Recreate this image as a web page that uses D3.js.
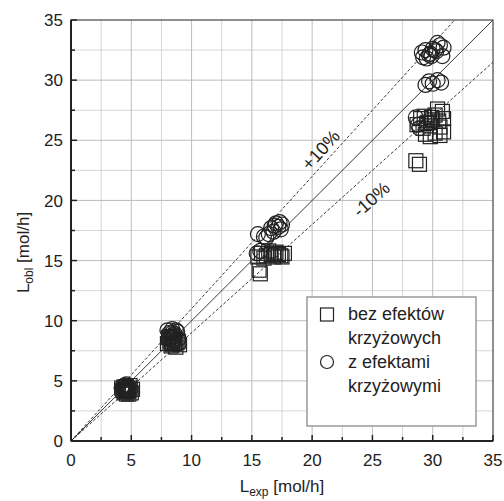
<!DOCTYPE html>
<html>
<head>
<meta charset="utf-8">
<script src="https://cdn.jsdelivr.net/npm/d3@7"></script>
<style>
  body { margin: 0; background: #fff; }
  text { font-family: "Liberation Sans", Arial, sans-serif; fill: #222; }
  .grid-major { stroke: #bdbdbd; stroke-width: 1; }
  .grid-minor { stroke: #d6d6d6; stroke-width: 1; }
  .ref { fill: none; stroke: #222; stroke-width: 0.9; }
  .ref.dash { stroke-dasharray: 3,2; }
  .mk { fill: none; stroke: #222; stroke-width: 1.2; }
</style>
</head>
<body>
<div id="chart"></div>
<script>
// axis ticks
var majorTicks = [0, 5, 10, 15, 20, 25, 30, 35];
var minorTicks = [2.5, 7.5, 12.5, 17.5, 22.5, 27.5, 32.5];

// reference lines: L_obl = k * L_exp
var refSlopes = [1.0, 1.1, 0.9];
var refLabels = ["+10%", "-10%"];

// squares: bez efektów krzyżowych
var sqExp = [4.3, 4.5, 4.7, 4.9, 5.1, 4.4, 4.6, 4.8, 5.0, 4.2, 4.6, 4.9, 4.5, 4.7, 4.4, 4.8,
             8.0, 8.2, 8.4, 8.6, 8.8, 9.0, 8.1, 8.3, 8.5, 8.7, 8.9, 8.2, 8.4, 8.6, 8.3,
             15.5, 15.8, 16.2, 16.6, 17.0, 17.4, 17.7, 16.0, 16.4, 16.8, 17.2, 15.6, 15.7, 16.9, 17.5,
             28.7, 29.0, 29.3, 29.6, 29.9, 30.2, 30.5, 30.8, 29.2, 29.8, 30.4, 30.9, 30.6, 30.0, 29.5,
             29.4, 29.8, 30.2, 30.6, 30.9, 28.6, 28.9];
var sqObl = [4.2, 4.3, 4.1, 4.4, 4.3, 4.0, 4.5, 4.2, 4.0, 4.4, 3.9, 4.6, 4.1, 4.3, 4.5, 3.9,
             8.1, 8.3, 8.0, 8.4, 8.2, 8.0, 8.6, 7.9, 8.5, 7.8, 8.3, 8.7, 8.2, 8.1, 8.4,
             15.3, 15.6, 15.4, 15.5, 15.7, 15.4, 15.6, 15.2, 15.8, 15.3, 15.5, 14.2, 13.9, 15.6, 15.3,
             26.3, 26.8, 27.0, 26.5, 26.9, 27.1, 26.6, 27.4, 26.0, 26.2, 27.6, 26.8, 26.1, 26.7, 26.4,
             25.5, 25.3, 25.6, 25.4, 25.7, 23.3, 23.0];

// circles: z efektami krzyżowymi
var ciExp = [4.3, 4.5, 4.7, 4.4, 4.6, 4.8, 4.5, 4.2, 4.6, 4.4,
             8.0, 8.2, 8.4, 8.6, 8.8, 8.3, 8.5, 8.7, 8.1, 8.9, 8.4, 8.6,
             15.4, 15.7, 16.0, 16.4, 16.8, 17.2, 17.5, 16.6, 17.0, 17.4, 15.5, 16.2, 16.9, 17.3,
             29.1, 29.4, 29.7, 30.0, 30.3, 30.6, 30.9, 29.5, 29.9, 30.4, 30.8, 29.2, 29.8, 30.2,
             29.4, 29.7, 30.0, 30.4, 30.7, 28.6, 28.8, 28.9];
var ciObl = [4.5, 4.6, 4.4, 4.3, 4.7, 4.5, 4.2, 4.4, 4.3, 4.6,
             9.2, 9.0, 9.3, 8.9, 9.1, 8.7, 8.8, 9.2, 8.6, 8.5, 9.0, 8.7,
             15.6, 15.8, 17.0, 17.2, 17.4, 17.8, 18.0, 17.7, 18.1, 17.6, 17.2, 16.9, 17.9, 18.2,
             32.3, 32.5, 32.1, 32.6, 32.4, 32.9, 32.7, 31.8, 32.0, 33.1, 32.0, 31.9, 32.2, 32.5,
             29.6, 29.9, 29.7, 30.0, 29.8, 26.9, 26.3, 26.0];

var legendLines = [["bez efektów", "krzyżowych"], ["z efektami", "krzyżowymi"]];

function renderChart(el) {
  var margin = {top: 20, right: 11, bottom: 60, left: 71},
      width = 504 - margin.left - margin.right,
      height = 501 - margin.top - margin.bottom;

  var x = d3.scaleLinear().domain([0, 35]).range([0, width]);
  var y = d3.scaleLinear().domain([0, 35]).range([height, 0]);

  var svg = d3.select(el).append("svg")
      .attr("width", 504)
      .attr("height", 501)
    .append("g")
      .attr("transform", "translate(" + margin.left + "," + margin.top + ")");

  svg.append("clipPath").attr("id", "clip")
    .append("rect").attr("width", width).attr("height", height);

  // grid lines
  svg.selectAll(".gvmin").data(minorTicks).enter().append("line")
      .attr("class", "grid-minor")
      .attr("x1", function(d) { return x(d); }).attr("x2", function(d) { return x(d); })
      .attr("y1", 0).attr("y2", height);
  svg.selectAll(".ghmin").data(minorTicks).enter().append("line")
      .attr("class", "grid-minor")
      .attr("y1", function(d) { return y(d); }).attr("y2", function(d) { return y(d); })
      .attr("x1", 0).attr("x2", width);
  svg.selectAll(".gvmaj").data(majorTicks.slice(1, -1)).enter().append("line")
      .attr("class", "grid-major")
      .attr("x1", function(d) { return x(d); }).attr("x2", function(d) { return x(d); })
      .attr("y1", 0).attr("y2", height);
  svg.selectAll(".ghmaj").data(majorTicks.slice(1, -1)).enter().append("line")
      .attr("class", "grid-major")
      .attr("y1", function(d) { return y(d); }).attr("y2", function(d) { return y(d); })
      .attr("x1", 0).attr("x2", width);

  // reference lines
  var plot = svg.append("g").attr("clip-path", "url(#clip)");
  plot.selectAll(".ref").data(refSlopes).enter().append("line")
      .attr("class", function(d, i) { return i == 0 ? "ref" : "ref dash"; })
      .attr("x1", x(0)).attr("y1", y(0))
      .attr("x2", x(40)).attr("y2", function(d) { return y(40 * d); });

  // data markers
  var squares = sqExp.map(function(d, i) { return [d, sqObl[i]]; });
  var circles = ciExp.map(function(d, i) { return [d, ciObl[i]]; });
  var s = 14;
  plot.selectAll(".sq").data(squares).enter().append("rect")
      .attr("class", "mk")
      .attr("x", function(d) { return x(d[0]) - s / 2; })
      .attr("y", function(d) { return y(d[1]) - s / 2; })
      .attr("width", s).attr("height", s);
  plot.selectAll(".ci").data(circles).enter().append("circle")
      .attr("class", "mk")
      .attr("cx", function(d) { return x(d[0]); })
      .attr("cy", function(d) { return y(d[1]); })
      .attr("r", 7.5);

  // +/-10% labels, rotated along the lines
  var ang = function(k) { return -Math.atan(k * (y(0) - y(1)) / (x(1) - x(0))) * 180 / Math.PI; };
  var labPos = [[20.7, 24.2, 1.1], [24.9, 20.1, 0.9]];
  svg.selectAll(".pct").data(labPos).enter().append("text")
      .attr("text-anchor", "middle")
      .attr("font-size", 18)
      .attr("transform", function(d) {
        return "translate(" + x(d[0]) + "," + y(d[1]) + ") rotate(" + ang(d[2]) + ")";
      })
      .attr("dy", "0.35em")
      .text(function(d, i) { return refLabels[i]; });

  // frame
  svg.append("rect").attr("width", width).attr("height", height)
      .attr("fill", "none").attr("stroke", "#444").attr("stroke-width", 1.2);
  svg.append("line").attr("x1", 0).attr("x2", 0).attr("y1", 0).attr("y2", height)
      .attr("stroke", "#222").attr("stroke-width", 2);
  svg.append("line").attr("x1", 0).attr("x2", width).attr("y1", height).attr("y2", height)
      .attr("stroke", "#222").attr("stroke-width", 2);

  // inward ticks
  var tk = majorTicks.map(function(d) { return [d, 6]; })
      .concat(minorTicks.map(function(d) { return [d, 4]; }));
  svg.selectAll(".tx").data(tk).enter().append("line")
      .attr("x1", function(d) { return x(d[0]); }).attr("x2", function(d) { return x(d[0]); })
      .attr("y1", height).attr("y2", function(d) { return height - d[1]; })
      .attr("stroke", "#222").attr("stroke-width", 1.5);
  svg.selectAll(".ty").data(tk).enter().append("line")
      .attr("y1", function(d) { return y(d[0]); }).attr("y2", function(d) { return y(d[0]); })
      .attr("x1", 0).attr("x2", function(d) { return d[1]; })
      .attr("stroke", "#222").attr("stroke-width", 1.5);

  // tick labels
  svg.selectAll(".lx").data(majorTicks).enter().append("text")
      .attr("x", function(d) { return x(d); })
      .attr("y", height + 25)
      .attr("text-anchor", "middle")
      .attr("font-size", 17)
      .text(function(d) { return d; });
  svg.selectAll(".ly").data(majorTicks).enter().append("text")
      .attr("x", -8)
      .attr("y", function(d) { return y(d); })
      .attr("dy", "0.36em")
      .attr("text-anchor", "end")
      .attr("font-size", 17)
      .text(function(d) { return d; });

  // axis titles
  var xt = svg.append("text")
      .attr("x", width / 2)
      .attr("y", height + 51)
      .attr("text-anchor", "middle")
      .attr("font-size", 17);
  xt.append("tspan").text("L");
  xt.append("tspan").attr("font-size", 12).attr("dy", 3.5).text("exp");
  xt.append("tspan").attr("dy", -3.5).text(" [mol/h]");

  var yt = svg.append("text")
      .attr("transform", "translate(-42," + (height / 2 + 22) + ") rotate(-90)")
      .attr("text-anchor", "middle")
      .attr("font-size", 17);
  yt.append("tspan").text("L");
  yt.append("tspan").attr("font-size", 12).attr("dy", 4).text("obl");
  yt.append("tspan").attr("dy", -4).text(" [mol/h]");

  // legend
  var lg = svg.append("g").attr("transform", "translate(" + (307 - margin.left) + "," + (297 - margin.top) + ")");
  lg.append("rect").attr("width", 169).attr("height", 129)
      .attr("fill", "#fff").attr("stroke", "#8a8a8a").attr("stroke-width", 1.3);
  lg.append("rect").attr("class", "mk").attr("x", 13.5).attr("y", 11).attr("width", 13).attr("height", 13);
  lg.append("circle").attr("class", "mk").attr("cx", 20).attr("cy", 65).attr("r", 6.5);
  legendLines.forEach(function(lines, i) {
    lines.forEach(function(t, j) {
      lg.append("text")
        .attr("x", 41)
        .attr("y", 23 + i * 48 + j * 24)
        .attr("font-size", 18)
        .text(t);
    });
  });
}

renderChart("#chart");
</script>
</body>
</html>
